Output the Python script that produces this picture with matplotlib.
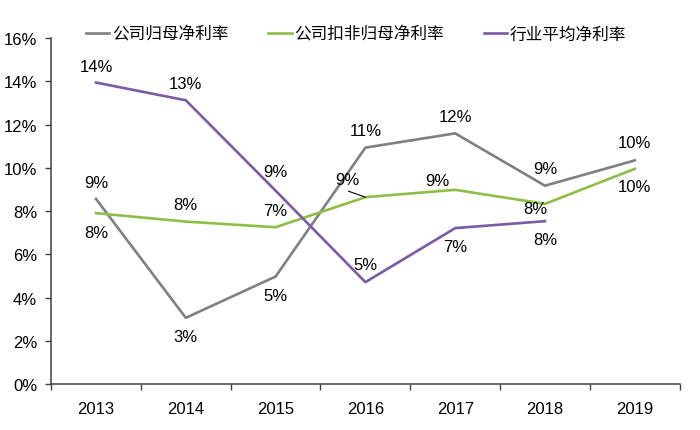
import matplotlib
matplotlib.use("Agg")
import matplotlib.pyplot as plt
from matplotlib.ticker import FuncFormatter, FixedLocator

plt.rcParams.update({
    "font.family": ["Liberation Sans", "DejaVu Sans"],
    "font.size": 12,
})

# ── data ───────────────────────────────────────────────────────────────────────
years = ["2013", "2014", "2015", "2016", "2017", "2018", "2019"]
gross = [8.56, 3.06, 4.97, 10.93, 11.59, 9.17, 10.34]       # 公司归母净利率
deducted = [7.90, 7.51, 7.25, 8.64, 8.98, 8.33, 9.95]       # 公司扣非归母净利率
industry = [13.94, 13.12, 8.94, 4.71, 7.21, 7.53]          # 行业平均净利率

gross_lbl = ["9%", "3%", "5%", "11%", "12%", "9%", "10%"]
deducted_lbl = ["8%", "8%", "7%", "9%", "9%", "8%", "10%"]
industry_lbl = ["14%", "13%", "9%", "5%", "7%", "8%"]

# label offsets in pixels (dx, dy; dy positive = up)
gross_off = [(0, 16), (0, -19), (0, -19), (0, 17), (0, 17), (0, 17), (0, 18)]
deducted_off = [(0, -19), (0, 17), (0, 17), (-18, 18), (-18, 9), (-10, -5), (0, -18)]
industry_off = [(0, 16), (0, 17), (0, 19), (0, 18), (0, -18), (0, -18)]

GRAY = "#808080"
GREEN = "#8DBF46"
PURPLE = "#7B5BA6"
AXIS = "#404040"

fig = plt.figure(figsize=(7.0, 4.31), dpi=100)
ax = fig.add_axes([0.073, 0.1067, 0.898, 0.8028])

x = list(range(len(years)))
ax.plot(x, gross, color=GRAY, lw=1.9, label="公司归母净利率")
ax.plot(x, deducted, color=GREEN, lw=1.9, label="公司扣非归母净利率")
ax.plot(x[:len(industry)], industry, color=PURPLE, lw=1.9, label="行业平均净利率")

def annotate(vals, labels, offs):
    for i, (v, t, (dx, dy)) in enumerate(zip(vals, labels, offs)):
        ax.annotate(t, (i, v), xytext=(dx * 0.72, dy * 0.72),
                    textcoords="offset points", ha="center", va="center",
                    fontsize=12, color="black")

annotate(gross, gross_lbl, gross_off)
annotate(deducted, deducted_lbl, deducted_off)
annotate(industry, industry_lbl, industry_off)

# leader line for 2016 deducted label
ax.annotate("", (3, deducted[3]), xytext=(-17 * 0.72, 6 * 0.72),
            textcoords="offset points",
            arrowprops=dict(arrowstyle="-", color="black", lw=0.8,
                            shrinkA=0, shrinkB=0))

ax.set_xlim(-0.5, len(years) - 0.5)
ax.set_ylim(0, 16)
ax.set_yticks(range(0, 17, 2))
ax.yaxis.set_major_formatter(FuncFormatter(lambda v, _: f"{v:.0f}%"))
ax.set_xticks(x)
ax.set_xticklabels(years)
ax.xaxis.set_minor_locator(FixedLocator([i - 0.5 for i in range(len(years) + 1)]))
ax.tick_params(axis="x", which="major", length=0, pad=12, labelsize=12)
ax.tick_params(axis="x", which="minor", length=4, width=1, color=AXIS, direction="out")
ax.tick_params(axis="y", length=4, width=1, color=AXIS, pad=6, labelsize=12)

for s in ("top", "right"):
    ax.spines[s].set_visible(False)
for s in ("left", "bottom"):
    ax.spines[s].set_color(AXIS)
    ax.spines[s].set_linewidth(1.1)

leg = ax.legend(loc="upper left", bbox_to_anchor=(0.045, 1.055), ncol=3,
                frameon=False, handlelength=1.4, handletextpad=0.15,
                columnspacing=2.4, borderaxespad=0,
                prop={"family": ["Noto Sans CJK SC", "DejaVu Sans"], "size": 12})

fig.savefig("out.png", dpi=100)
